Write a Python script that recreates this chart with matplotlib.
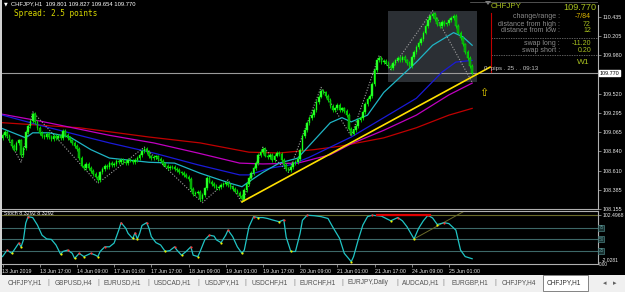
import matplotlib
matplotlib.use("Agg")
import matplotlib.pyplot as plt
import numpy as np
from matplotlib.patches import Rectangle, Polygon

# ---------------- data ----------------
closes = [109.03,109.07,109.02,108.97,108.90,108.86,108.94,108.97,108.80,108.88,
          109.07,109.14,109.20,109.28,109.19,109.12,109.06,109.02,109.01,109.05,
          109.01,108.99,109.02,109.00,109.02,109.00,109.08,109.03,109.00,108.97,
          108.94,108.90,108.87,108.76,108.67,108.64,108.69,108.64,108.61,108.57,
          108.54,108.50,108.59,108.63,108.67,108.65,108.70,108.68,108.69,108.73,
          108.71,108.74,108.71,108.70,108.74,108.73,108.71,108.74,108.76,108.80,
          108.84,108.87,108.83,108.78,108.76,108.77,108.78,108.75,108.73,108.69,
          108.67,108.64,108.65,108.65,108.63,108.62,108.59,108.58,108.56,108.54,
          108.51,108.39,108.33,108.35,108.36,108.27,108.32,108.40,108.52,108.48,
          108.45,108.43,108.40,108.42,108.44,108.45,108.46,108.44,108.42,108.39,
          108.37,108.35,108.31,108.27,108.38,108.45,108.52,108.58,108.64,108.70,
          108.80,108.83,108.87,108.79,108.77,108.80,108.74,108.79,108.82,108.81,
          108.74,108.68,108.63,108.62,108.65,108.70,108.71,108.75,108.86,109.02,
          109.09,109.18,109.24,109.27,109.33,109.43,109.49,109.56,109.54,109.50,
          109.45,109.38,109.33,109.35,109.39,109.33,109.35,109.32,109.27,109.11,
          109.05,109.09,109.14,109.21,109.24,109.31,109.40,109.46,109.50,109.64,
          109.81,109.92,109.95,109.90,109.91,109.89,109.85,109.83,109.89,109.92,
          109.95,109.92,109.96,109.92,109.89,109.85,109.96,110.02,110.08,110.13,
          110.17,110.25,110.33,110.40,110.45,110.47,110.41,110.35,110.33,110.38,
          110.35,110.36,110.40,110.42,110.45,110.33,110.25,110.19,110.11,110.02,
          109.95,109.85,109.77]
first_open = 109.00

red_ma_idx = [0,33,63,85,106,119,134,145,164,178,192,202]
red_ma = [109.18,109.12,109.01,108.94,108.83,108.82,108.86,108.90,109.00,109.12,109.27,109.35]
mag_ma_idx = [0,16,46,65,84,102,112,127,141,150,164,178,192,202]
mag_ma = [109.28,109.20,109.03,108.94,108.82,108.70,108.69,108.70,108.80,108.93,109.09,109.27,109.51,109.65]
blue_ma_idx = [0,16,33,46,65,84,102,106,115,124,132,141,150,164,178,189,195,202]
blue_ma = [109.27,109.15,109.03,108.94,108.82,108.68,108.56,108.56,108.64,108.68,108.77,108.89,109.01,109.24,109.47,109.78,109.90,109.92]
cyan_ma_idx = [0,10,13,20,29,38,46,63,74,85,98,103,106,112,119,127,134,141,146,150,157,164,171,178,185,194,198,202]
cyan_ma = [109.11,109.00,109.06,109.06,109.01,108.86,108.76,108.71,108.70,108.58,108.46,108.42,108.48,108.59,108.70,108.76,108.97,109.18,109.24,109.19,109.27,109.54,109.72,109.90,110.10,110.25,110.20,110.10]
zz_idx = [2,8,13,41,61,86,97,103,112,123,137,150,162,167,185,202]
zz_price = [109.01,108.71,109.31,108.46,108.89,108.23,108.50,108.23,108.89,108.59,109.60,109.02,109.98,109.81,110.51,109.66]
trend_idx = [103, 209.7]
trend_price = [108.24, 109.84]
box_idx = [166, 204]
box_price = [109.66, 110.51]
bid = 109.770

price_ticks = [110.435,110.205,109.980,109.520,109.295,109.065,108.840,108.610,108.385,108.155]

stoch_idx = [0,2,4,5,7,8,9,10,11,13,15,17,19,21,23,25,26,28,30,31,33,35,38,40,41,42,44,46,48,50,
             51,53,54,56,57,58,59,60,62,63,64,66,68,70,72,74,75,77,79,81,82,84,85,87,89,91,92,94,96,97,
             99,101,103,104,106,108,110,112,114,116,119,121,122,124,126,128,129,131,134,137,140,142,145,147,150,
             151,153,155,157,159,163,167,170,172,174,177,179,181,183,185,187,190,192,195,197,199,202]
stoch_val = [13,27,20,27,42,34,49,85,99,97,81,59,51,50,38,18,24,27,20,9,20,13,20,16,13,24,34,34,42,70,
             86,74,63,52,64,51,63,80,86,74,56,43,38,24,26,34,27,16,24,34,16,13,24,49,59,57,49,43,59,70,
             56,34,20,27,77,99,97,97,95,92,88,92,55,24,24,63,91,102,101,99,95,77,52,20,2,
             13,49,81,99,102,100,90,97,90,77,51,74,90,102,96,82,86,84,70,27,13,8.33]
stoch_levels = [75, 50, 25]
stoch_max, stoch_min = 102.4968, -2.0281
stoch_red_idx = [161, 184]
stoch_red_val = [102, 102]
stoch_diag_idx = [177, 198]
stoch_diag_val = [51, 109]

time_idx = [0,16,32,48,64,80,96,112,128,144,160,176,192]
time_labels = ["13 Jun 2019","13 Jun 17:00","14 Jun 09:00","17 Jun 01:00","17 Jun 17:00",
               "18 Jun 09:00","19 Jun 01:00","19 Jun 17:00","20 Jun 09:00","21 Jun 01:00",
               "21 Jun 17:00","24 Jun 09:00","25 Jun 01:00"]
tabs = ["CHFJPY,H1","GBPUSD,H4","EURUSD,H1","USDCAD,H1","USDJPY,H1","USDCHF,H1",
        "EURCHF,H1","EURJPY,Daily","AUDCAD,H1","EURGBP,H1","CHFJPY,H4","CHFJPY,H1"]
tab_x = [8,55,103,153,204,251,300,348,402,452,502,547]
tab_sep_x = [48,98,148,198,245,294,342,397,443,495]

# ---------------- figure ----------------
W, H = 625, 292
plt.rcParams['font.family'] = ['Liberation Sans', 'DejaVu Sans']
fig = plt.figure(figsize=(W/100, H/100), dpi=100, facecolor='black')

def fx(x): return x / W
def fy(y): return 1 - y / H

PX_PER_BAR = 2.325
X0 = 2.5
xl = ((1 - X0) / PX_PER_BAR, (598 - X0) / PX_PER_BAR)

ax = fig.add_axes([fx(1), fy(209), 597/W, 204/H])
ax.set_facecolor('black')
ax.set_xlim(*xl)
ax.set_ylim(108.155, 110.578)

ax.add_patch(Rectangle((box_idx[0], box_price[0]), box_idx[1]-box_idx[0], box_price[1]-box_price[0],
                       facecolor='#2b2f34', edgecolor='none', zorder=0))
ax.axhline(bid, color='#9a9a9a', lw=0.8, zorder=1)

ax.plot(red_ma_idx, red_ma, color='#c00000', lw=0.9, zorder=2)
ax.plot(mag_ma_idx, mag_ma, color='#c000c0', lw=0.9, zorder=2)
ax.plot(blue_ma_idx, blue_ma, color='#1a1ad8', lw=0.9, zorder=2)
ax.plot(cyan_ma_idx, cyan_ma, color='#1fb5c5', lw=0.9, zorder=4)
ax.plot(zz_idx, zz_price, color='#a0a0a0', lw=0.8, ls=(0, (1, 1.5)), zorder=3)

c = np.array(closes)
o = np.concatenate([[first_open], c[:-1]])
idx = np.arange(len(c))
WICK = 0.022
hi = np.maximum(o, c) + WICK
lo = np.minimum(o, c) - WICK
ax.vlines(idx, lo, hi, color='#00e000', lw=0.6, zorder=5)
bull = c >= o
body = np.maximum(np.abs(c - o), 0.006)
ax.bar(idx[bull], body[bull], bottom=np.minimum(o, c)[bull], width=0.7,
       color='#33ff33', edgecolor='#00ff00', lw=0.3, zorder=6)
ax.bar(idx[~bull], body[~bull], bottom=np.minimum(o, c)[~bull], width=0.7,
       color='#0a9a0a', edgecolor='#00ff00', lw=0.3, zorder=6)

ax.plot(trend_idx, trend_price, color='#ffe000', lw=1.2, zorder=7)
ax.text(207, 109.53, "⇧", color='#e8d000', fontsize=8, ha='center', va='center',
        family='DejaVu Sans', zorder=8)

for s in ['left', 'top']:
    ax.spines[s].set_visible(False)
for s in ['bottom', 'right']:
    ax.spines[s].set_color('#b0b0b0')
    ax.spines[s].set_linewidth(0.8)
ax.set_xticks([])
ax.yaxis.tick_right()
ax.set_yticks(price_ticks)
ax.set_yticklabels([f"{t:.3f}" for t in price_ticks])
ax.tick_params(axis='y', colors='#b0b0b0', labelcolor='#e8e8e8', labelsize=3.9,
               length=2, width=0.5, pad=1)

ax.text(1.003, bid, f"{bid:.3f}", transform=ax.get_yaxis_transform(), fontsize=3.9,
        color='black', va='center', ha='left',
        bbox=dict(boxstyle='square,pad=0.15', facecolor='white', edgecolor='white'))

# ---------------- stochastic panel ----------------
ax2 = fig.add_axes([fx(1), fy(264), 597/W, 53/H])
ax2.set_facecolor('black')
ax2.set_xlim(*xl)
upp = (stoch_max - 25) / 36.0
ax2.set_ylim(25 - 13 * upp, stoch_max + 4 * upp)
for lv in stoch_levels:
    ax2.axhline(lv, color='#3d6868', lw=0.8, zorder=1)
ax2.axhline(stoch_max, color='#6a6a2a', lw=0.8, zorder=1)
ax2.plot(stoch_idx, stoch_val, color='#20c4c4', lw=0.9, zorder=3)
sv = np.array(stoch_val, dtype=float)
si = np.array(stoch_idx)
mx = [k for k in range(1, len(sv)-1) if sv[k] > sv[k-1] and sv[k] >= sv[k+1]]
mn = [k for k in range(1, len(sv)-1) if sv[k] < sv[k-1] and sv[k] <= sv[k+1]]
ax2.scatter(si[mx], sv[mx], s=2.5, color='#ff3030', zorder=4, lw=0)
ax2.scatter(si[mn], sv[mn], s=2.5, color='#f0f000', zorder=4, lw=0)
ax2.plot(stoch_red_idx, stoch_red_val, color='#e00000', lw=1.6, zorder=5)
ax2.plot(stoch_diag_idx, stoch_diag_val, color='#6a6a2a', lw=0.7, zorder=2)
ax2.text(0.5, 105, "Stoch 8.3292 8.3292", fontsize=3.9, color='white', va='center', ha='left')

ax2.spines['left'].set_visible(False)
for s in ['top', 'bottom', 'right']:
    ax2.spines[s].set_color('#b0b0b0')
    ax2.spines[s].set_linewidth(0.8)
ax2.yaxis.tick_right()
ax2.set_yticks([stoch_max])
ax2.set_yticklabels([f"{stoch_max:.4f}"])
ax2.tick_params(axis='y', colors='#b0b0b0', labelcolor='#e8e8e8', labelsize=3.7,
                length=2, width=0.5, pad=1)
for lv in stoch_levels:
    ax2.text(1.001, lv, str(lv), transform=ax2.get_yaxis_transform(), fontsize=3.4,
             color='#5a9090', va='center', ha='left',
             bbox=dict(boxstyle='square,pad=0.1', facecolor='#183030', edgecolor='#4a8080', lw=0.5))
ax2.text(1.006, stoch_min + 6, f"{stoch_min:.4f}", transform=ax2.get_yaxis_transform(),
         fontsize=3.6, color='#e8e8e8', va='center', ha='left')
ax2.text(1.002, stoch_min - 3, "0.00", transform=ax2.get_yaxis_transform(),
         fontsize=3.4, color='#e8e8e8', va='center', ha='left')
ax2.set_xticks(time_idx)
ax2.set_xticklabels(time_labels, ha='left')
ax2.tick_params(axis='x', colors='#b0b0b0', labelcolor='#e8e8e8', labelsize=3.8,
                length=2, width=0.5, pad=1.5)

# ---------------- header & info panel ----------------
fig.text(fx(4), fy(4), "▼", fontsize=3.5, color='white', va='center', family='DejaVu Sans')
fig.text(fx(11), fy(4), "CHFJPY,H1  109.801 109.827 109.654 109.770", fontsize=4.2,
         color='white', va='center')
fig.text(fx(14), fy(13.5), "Spread: 2.5 points", fontsize=5.6, color='#d8d800', va='center',
         family='DejaVu Sans Mono')

GREEN_TXT = '#a8c020'
fig.text(fx(491), fy(7), "CHFJPY", fontsize=5.8, color=GREEN_TXT, va='center')
fig.text(fx(596), fy(7), f"{bid:.3f}", fontsize=6.6, color=GREEN_TXT, va='center', ha='right')
rows = [("change/range :", "-7/84", '#e0b800', 17), ("distance from high :", "72", GREEN_TXT, 24),
        ("distance from low :", "12", GREEN_TXT, 31), ("swap long :", "-11.20", GREEN_TXT, 43.5),
        ("swap short :", "0.20", GREEN_TXT, 50.5)]
for lab, val, col, yy in rows:
    fig.text(fx(560), fy(yy), lab, fontsize=5.0, color='#8a8a8a', va='center', ha='right')
    fig.text(fx(591), fy(yy), val, fontsize=5.0, color=col, va='center', ha='right')
fig.text(fx(590), fy(63), "W1", fontsize=6, color=GREEN_TXT, va='center', ha='right')
fig.text(fx(484), fy(69), "0  pips . 25 . . 09:13", fontsize=4.4, color='#c8c8c8', va='center')

for yy in (38, 55):
    fig.add_artist(plt.Line2D([fx(491), fx(597)], [fy(yy), fy(yy)], color='#808080', lw=0.5,
                              ls=(0, (2, 1.5))))
fig.add_artist(plt.Line2D([fx(470), fx(597)], [fy(2), fy(2)], color='#707070', lw=0.5))
fig.add_artist(plt.Line2D([fx(490.5), fx(490.5)], [fy(13), fy(72)], color='#c00000', lw=0.8))
fig.add_artist(Polygon([[fx(485), fy(1)], [fx(491), fy(1)], [fx(488), fy(5)]],
                       closed=True, facecolor='#808080', edgecolor='none'))

fig.add_artist(Rectangle((0, fy(275)), fx(2), 275/H, facecolor='#d0d0d0', edgecolor='none'))

# ---------------- tab bar ----------------
fig.add_artist(Rectangle((0, 0), 1, fy(274.5), facecolor='#f0f0f0', edgecolor='none'))
fig.add_artist(Rectangle((fx(543), fy(291)), fx(45), 16/H, facecolor='white',
                         edgecolor='#707070', lw=0.6))
for k, (t, xx) in enumerate(zip(tabs, tab_x)):
    fig.text(fx(xx), fy(283), t, fontsize=4.7, color='#303030' if k == len(tabs)-1 else '#505050',
             va='center', ha='left')
for sx in tab_sep_x:
    fig.text(fx(sx), fy(283), "|", fontsize=4.7, color='#808080', va='center', ha='center')
fig.text(fx(605), fy(283), "◂", fontsize=5, color='#606060', va='center', ha='center', family='DejaVu Sans')
fig.text(fx(615), fy(283), "▸", fontsize=5, color='#606060', va='center', ha='center', family='DejaVu Sans')

fig.savefig("out.png", dpi=100, facecolor='black')
